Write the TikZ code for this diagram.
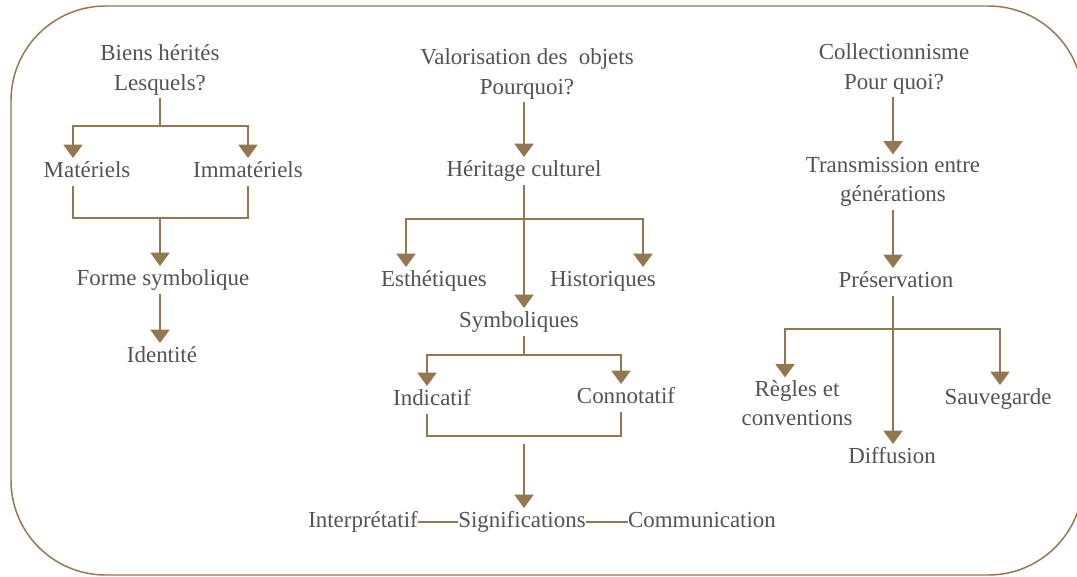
\documentclass[tikz,border=0pt]{standalone}
\usepackage{fontspec}
\setmainfont{Liberation Serif}
\usepackage{xcolor}
\usepackage{tikz}
\usetikzlibrary{arrows.meta,calc}
\definecolor{bronze}{RGB}{146,119,80}
\definecolor{inkgray}{RGB}{82,82,82}

\begin{document}
\begin{tikzpicture}[
  x=0.75pt, y=-0.75pt,
  lbl/.style={inner sep=2pt, align=center, text=inkgray, font=\fontsize{17.2}{21.8}\selectfont},
  word/.style={lbl, text height=12.5pt, text depth=4pt},
  link/.style={draw=bronze, line width=2.1pt},
  arrow/.style={link, -{Triangle[width=14pt,length=10pt]}, bronze},
  frame/.style={draw=bronze, line width=1.1pt, rounded corners=71pt}
]
  \useasboundingbox (0,0) rectangle (1077,577);
  \clip (0,0) rectangle (1077,577);
  \draw[frame] (11,6) rectangle (1083,575);

  % left column
  \node[lbl] (biens) at (160,70) {Biens hérités\\Lesquels?};
  \node[word] (mat) at (87,172) {Matériels};
  \node[word] (immat) at (248,172) {Immatériels};
  \node[word] (forme) at (163,280) {Forme symbolique};
  \node[word] (ident) at (162,357) {Identité};
  \coordinate (b1) at (160,126);
  \coordinate (m1) at (160,218);
  \draw[link] (biens) -- (b1);
  \draw[arrow] (b1) -| ($(mat.north)+(-14,0)$);
  \draw[arrow] (b1) -| (immat.north);
  \draw[link] ($(mat.south)+(-14,0)$) |- (m1) -| (immat.south);
  \draw[arrow] (m1) -- (forme.north -| m1);
  \draw[arrow] (forme.south -| m1) -- (ident.north -| m1);

  % middle column
  \node[lbl] (valor) at (527,74) {Valorisation des~ objets\\Pourquoi?};
  \node[word] (herit) at (524,171) {Héritage culturel};
  \node[word] (esth) at (434,281) {Esthétiques};
  \node[word] (hist) at (603,281) {Historiques};
  \node[word] (symb) at (519,322) {Symboliques};
  \node[word] (indic) at (432,400) {Indicatif};
  \node[word] (connot) at (626,398) {Connotatif};
  \node[word] (signif) at (522,522) {Significations};
  \node[word] (interp) at (363,522) {Interprétatif};
  \node[word] (commu) at (702,522) {Communication};
  \coordinate (h1) at (524,219);
  \coordinate (s1) at (524,355);
  \coordinate (c1) at (524,436);
  \coordinate (c2) at (524,444);
  \draw[arrow] (valor.south -| h1) -- (herit.north -| h1);
  \draw[arrow] (herit.south -| h1) -- (symb.north -| h1);
  \draw[arrow] (h1) -| ($(esth.north)+(-28,0)$);
  \draw[arrow] (h1) -| ($(hist.north)+(40,0)$);
  \draw[link] (symb.south -| s1) -- (s1);
  \draw[arrow] (s1) -| ($(indic.north)+(-5,0)$);
  \draw[arrow] (s1) -| ($(connot.north)+(-5,0)$);
  \draw[link] ($(indic.south)+(-5,0)$) |- (c1) -| ($(connot.south)+(-5,0)$);
  \draw[arrow] (c2) -- (signif.north -| c2);
  \draw[link, shorten <=-2pt, shorten >=-2pt] (interp) -- (signif);
  \draw[link, shorten <=-2pt, shorten >=-2pt] (signif) -- (commu);

  % right column
  \node[lbl] (collec) at (894,69) {Collectionnisme\\Pour quoi?};
  \node[lbl] (trans) at (893,182) {Transmission entre\\générations};
  \node[word] (preserv) at (896,282) {Préservation};
  \node[lbl] (regles) at (797,403) {Règles et\\conventions};
  \node[word] (sauve) at (998,399) {Sauvegarde};
  \node[word] (diffu) at (892,458) {Diffusion};
  \coordinate (p1) at (893,329);
  \draw[arrow] (collec.south -| p1) -- (trans.north -| p1);
  \draw[arrow] (trans.south -| p1) -- (preserv.north -| p1);
  \draw[arrow] (preserv.south -| p1) -- (diffu.north -| p1);
  \draw[arrow] (p1) -| ($(regles.north)+(-12,0)$);
  \draw[arrow] (p1) -| ($(sauve.north)+(2,0)$);
\end{tikzpicture}
\end{document}
